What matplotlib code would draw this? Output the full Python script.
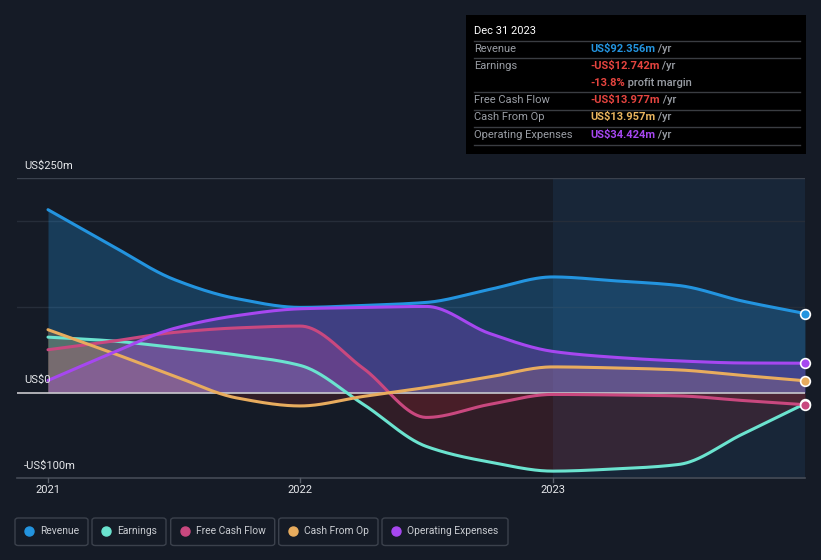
import numpy as np
import matplotlib
matplotlib.use("Agg")
import matplotlib.pyplot as plt
from matplotlib.patches import FancyBboxPatch, Rectangle
from matplotlib.lines import Line2D

plt.rcParams['font.family'] = ['Roboto', 'DejaVu Sans']

# ---------------- data (US$m, quarterly, decimal years) ----------------
quarters = [2021.00, 2021.25, 2021.50, 2021.75, 2022.00, 2022.25, 2022.50,
            2022.75, 2023.00, 2023.25, 2023.50, 2023.75, 2024.00]
revenue = [213.4, 172.0, 132.0, 109.6, 99.5, 101.8, 105.3, 120.5, 135.0, 130.4, 125.0, 107.0, 92.356]
earnings = [64.8, 60.5, 52.7, 44.0, 31.8, -13.6, -62.7, -80.8, -91.4, -88.8, -83.6, -48.6, -12.742]
free_cash_flow = [50.1, 59.8, 70.3, 75.6, 77.7, 28.3, -28.8, -13.6, -2.0, -2.6, -3.7, -9.0, -13.977]
cash_from_op = [73.5, 47.0, 19.5, -6.2, -15.4, -4.3, 6.2, 18.4, 30.1, 28.9, 26.6, 20.2, 13.957]
operating_expenses = [14.3, 45.8, 75.0, 90.0, 97.9, 99.4, 100.6, 69.1, 48.2, 41.2, 37.1, 34.7, 34.424]

series_names = ["Revenue", "Earnings", "Free Cash Flow", "Cash From Op", "Operating Expenses"]
series_colors = ["#2394df", "#6be3cf", "#c9487f", "#e8ac5e", "#a647f0"]

y_ticks = [250, 0, -100]
y_tick_labels = ["US$250m", "US$0", "-US$100m"]
x_ticks = [2021, 2022, 2023]
x_tick_labels = ["2021", "2022", "2023"]

tooltip_title = "Dec 31 2023"
tooltip_rows = [
    ("Revenue", "US$92.356m", " /yr", "#2394df"),
    ("Earnings", "-US$12.742m", " /yr", "#e5443f"),
    ("", "-13.8%", " profit margin", "#e5443f"),
    ("Free Cash Flow", "-US$13.977m", " /yr", "#e5443f"),
    ("Cash From Op", "US$13.957m", " /yr", "#e8b45e"),
    ("Operating Expenses", "US$34.424m", " /yr", "#a647f0"),
]

# ---------------- helpers ----------------
def pchip(x, y, n=500):
    x = np.asarray(x, float); y = np.asarray(y, float)
    h = np.diff(x); d = np.diff(y) / h
    m = np.zeros_like(y)
    for k in range(1, len(y) - 1):
        if d[k - 1] * d[k] <= 0:
            m[k] = 0
        else:
            w1 = 2 * h[k] + h[k - 1]; w2 = h[k] + 2 * h[k - 1]
            m[k] = (w1 + w2) / (w1 / d[k - 1] + w2 / d[k])
    m[0] = d[0]; m[-1] = d[-1]
    xs = np.linspace(x[0], x[-1], n)
    idx = np.clip(np.searchsorted(x, xs) - 1, 0, len(x) - 2)
    t = (xs - x[idx]) / h[idx]
    h00 = 2 * t**3 - 3 * t**2 + 1; h10 = t**3 - 2 * t**2 + t
    h01 = -2 * t**3 + 3 * t**2; h11 = t**3 - t**2
    ys = h00 * y[idx] + h10 * h[idx] * m[idx] + h01 * y[idx + 1] + h11 * h[idx] * m[idx + 1]
    return xs, ys

W, H = 821, 560
BG = "#151b26"
fig = plt.figure(figsize=(W / 100, H / 100), dpi=100, facecolor=BG)

def fx(px): return px / W
def fy(py): return 1 - py / H

ax_l, ax_r, ax_t, ax_b = 17, 805, 178.3, 478.5
ax = fig.add_axes([fx(ax_l), fy(ax_b), fx(ax_r - ax_l), (ax_b - ax_t) / H])
ax.set_facecolor(BG)
x0 = 2021 + (ax_l - 48) / 252.3
ax.set_xlim(x0, 2024.0)
ax.set_ylim(-100, 250)
for s in ax.spines.values():
    s.set_visible(False)
ax.set_xticks([]); ax.set_yticks([])

# highlighted last-year region
ax.axvspan(2023.0, 2024.0, color="#1c3550", alpha=0.45, lw=0, zorder=0)

# grid lines
ax.axhline(250, color="#3a414d", lw=1, zorder=1)
for g in [200, 100]:
    ax.axhline(g, color="#262d39", lw=1, zorder=1)
ax.axhline(-100, color="#454b56", lw=1.2, zorder=1, clip_on=False)

values = [revenue, earnings, free_cash_flow, cash_from_op, operating_expenses]
fill_alpha = [0.28, 0.22, 0.28, 0.22, 0.28]
curves = []
for v, c, a in zip(values, series_colors, fill_alpha):
    xs, ys = pchip(quarters, v)
    curves.append((xs, ys))
    ax.fill_between(xs, 0, ys, where=ys >= 0, color=c, alpha=a, lw=0, zorder=2, interpolate=True)
    ax.fill_between(xs, 0, ys, where=ys < 0, color="#b5272d", alpha=0.18, lw=0, zorder=2, interpolate=True)

ax.axhline(0, color="#c9c9cc", lw=1.2, zorder=3)

for (xs, ys), c in zip(curves, series_colors):
    ax.plot(xs, ys, color=c, lw=2.2, zorder=4, solid_capstyle="round")

for v, c in zip(values, series_colors):
    ax.plot([quarters[-1]], [v[-1]], "o", ms=7, mfc=c, mec="white", mew=1.2, zorder=6, clip_on=False)

# y labels
ylab_pos = {250: 166, 0: 380, -100: 466}
for val, lab in zip(y_ticks, y_tick_labels):
    fig.text(fx(24), fy(ylab_pos[val]), lab, color="#e6e8eb", fontsize=8, va="center", ha="left")

# x ticks
for tv, lab in zip(x_ticks, x_tick_labels):
    ax.plot([tv, tv], [-100, -103.5], color="#555b66", lw=1, clip_on=False, zorder=5)
    ax.text(tv, -107, lab, color="#e6e8eb", fontsize=8, ha="center", va="top")

# ---------------- tooltip ----------------
tip = Rectangle((fx(466), fy(154)), fx(806 - 466), (154 - 15) / H, transform=fig.transFigure,
                facecolor="#000000", edgecolor="none", zorder=10)
fig.patches.append(tip)
fig.text(fx(474), fy(31), tooltip_title, color="white", fontsize=8, va="center", ha="left", zorder=11)
sep_y = [41, 58, 92, 109.5, 127, 145]
for sy in sep_y:
    fig.add_artist(Line2D([fx(474), fx(800)], [fy(sy), fy(sy)], color="#3a3d42", lw=1, zorder=11))
row_y = [49, 66, 83, 100, 117, 135]
r = fig.canvas.get_renderer()
for (lab, val, suf, col), yy in zip(tooltip_rows, row_y):
    if lab:
        fig.text(fx(474), fy(yy), lab, color="#9a9ea5", fontsize=8, va="center", ha="left", zorder=11)
    t1 = fig.text(fx(590), fy(yy), val, color=col, fontsize=8, fontweight="bold", va="center", ha="left", zorder=11)
    bb = t1.get_window_extent(renderer=r)
    fig.text(bb.x1 / W, fy(yy), suf, color="#9a9ea5", fontsize=8, fontweight="medium", va="center", ha="left", zorder=11)

# ---------------- legend ----------------
boxes = [(15, 88), (92, 166), (170.7, 274.7), (278.7, 378), (382, 508)]
for (bx0, bx1), name, c in zip(boxes, series_names, series_colors):
    p = FancyBboxPatch((fx(bx0), fy(545.5)), fx(bx1 - bx0), (545.5 - 518) / H,
                       boxstyle="round,pad=0,rounding_size=0.004", transform=fig.transFigure,
                       facecolor="none", edgecolor="#3b414c", lw=1)
    fig.patches.append(p)
    fig.add_artist(Line2D([fx(bx0 + 14)], [fy(530.5)], marker="o", ms=6.5, color=c, mec=c, lw=0))
    fig.text(fx(bx0 + 25), fy(530.5), name, color="#c9ccd1", fontsize=7.4, va="center", ha="left")

fig.savefig("out.png", dpi=100, facecolor=BG)
